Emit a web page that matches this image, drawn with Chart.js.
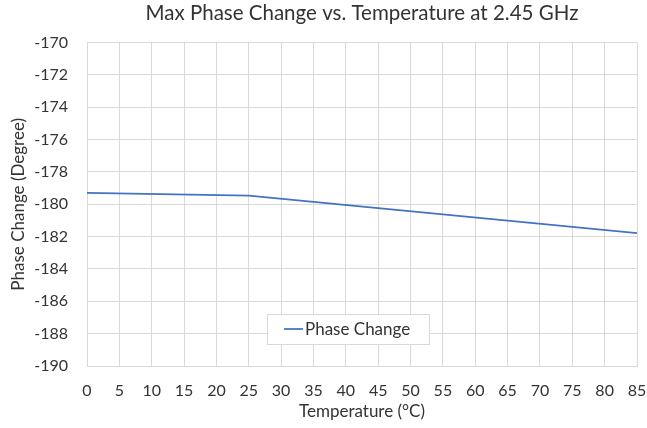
<!DOCTYPE html>
<html>
<head>
<meta charset="utf-8">
<script src="https://cdn.jsdelivr.net/npm/chart.js@4.4.0/dist/chart.umd.min.js"></script>
<style>
  html, body { margin: 0; padding: 0; background: #ffffff; }
  #wrap { width: 647px; height: 428px; }
</style>
</head>
<body>
<div id="wrap"><canvas id="c" width="647" height="428"></canvas></div>
<script>
// ---- data ----
const chartTitle = "Max Phase Change vs. Temperature at 2.45 GHz";
const xAxisTitle = "Temperature (°C)";
const yAxisTitle = "Phase Change (Degree)";
const seriesName = "Phase Change";
const temperatures = [0, 25, 85];
const phaseChange = [-179.3, -179.47, -181.78];
const xTicks = [0, 5, 10, 15, 20, 25, 30, 35, 40, 45, 50, 55, 60, 65, 70, 75, 80, 85];
const yTicks = [-190, -188, -186, -184, -182, -180, -178, -176, -174, -172, -170];

const FONT = "Lato, 'Open Sans', sans-serif";
const TXT = "#333333";
const GRID = "#d9d9d9";
const LINE = "#4472C4";

const legendBox = {
  id: 'legendBox',
  afterDraw(chart) {
    const ctx = chart.ctx;
    const ds = chart.data.datasets[0];
    const x0 = 267, y0 = 314, w = 162, h = 30;
    ctx.save();
    ctx.fillStyle = '#ffffff';
    ctx.fillRect(x0, y0, w, h);
    ctx.strokeStyle = GRID;
    ctx.lineWidth = 1;
    ctx.strokeRect(x0 + 0.5, y0 + 0.5, w, h);
    ctx.strokeStyle = ds.borderColor;
    ctx.lineWidth = ds.borderWidth;
    ctx.beginPath();
    ctx.moveTo(x0 + 17, y0 + 15);
    ctx.lineTo(x0 + 36, y0 + 15);
    ctx.stroke();
    ctx.fillStyle = TXT;
    ctx.font = "17px " + FONT;
    ctx.textBaseline = 'middle';
    ctx.textAlign = 'left';
    ctx.fillText(ds.label, x0 + 38, y0 + 15.5);
    ctx.restore();
  }
};

new Chart(document.getElementById('c'), {
  type: 'scatter',
  data: {
    datasets: [{
      label: seriesName,
      data: temperatures.map((t, i) => ({ x: t, y: phaseChange[i] })),
      showLine: true,
      borderColor: LINE,
      backgroundColor: LINE,
      borderWidth: 1.75,
      pointRadius: 0,
      pointHoverRadius: 0,
      tension: 0
    }]
  },
  options: {
    responsive: false,
    animation: false,
    devicePixelRatio: 1,
    layout: { padding: { left: 0, right: 10, top: 0, bottom: 0 } },
    plugins: {
      legend: { display: false },
      tooltip: { enabled: false },
      title: {
        display: true,
        fullSize: false,
        text: chartTitle,
        color: TXT,
        font: { family: FONT, size: 20.5, weight: 'normal' },
        padding: { top: 1, bottom: 17 }
      }
    },
    scales: {
      x: {
        type: 'linear',
        min: 0, max: 85,
        afterBuildTicks(scale) { scale.ticks = xTicks.map(v => ({ value: v })); },
        afterFit(scale) { scale.height = 62; scale.paddingRight = 0; scale.paddingLeft = 0; },
        ticks: {
          color: TXT,
          font: { family: FONT, size: 16 },
          padding: 15,
          maxRotation: 0,
          autoSkip: false
        },
        grid: { color: GRID, drawTicks: false, lineWidth: 1 },
        border: { color: GRID },
        title: {
          display: true,
          text: xAxisTitle,
          color: TXT,
          font: { family: FONT, size: 17 },
          padding: { top: 0, bottom: 6 }
        }
      },
      y: {
        type: 'linear',
        min: -190, max: -170,
        afterBuildTicks(scale) { scale.ticks = yTicks.map(v => ({ value: v })); },
        afterFit(scale) { scale.width = 87; scale.paddingTop = 0; scale.paddingBottom = 0; },
        ticks: {
          color: TXT,
          font: { family: FONT, size: 16 },
          padding: 19,
          autoSkip: false
        },
        grid: { color: GRID, drawTicks: false, lineWidth: 1 },
        border: { color: GRID },
        title: {
          display: true,
          text: yAxisTitle,
          color: TXT,
          font: { family: FONT, size: 17 },
          padding: { top: 8, bottom: 0 }
        }
      }
    }
  },
  plugins: [legendBox]
});
</script>
</body>
</html>
